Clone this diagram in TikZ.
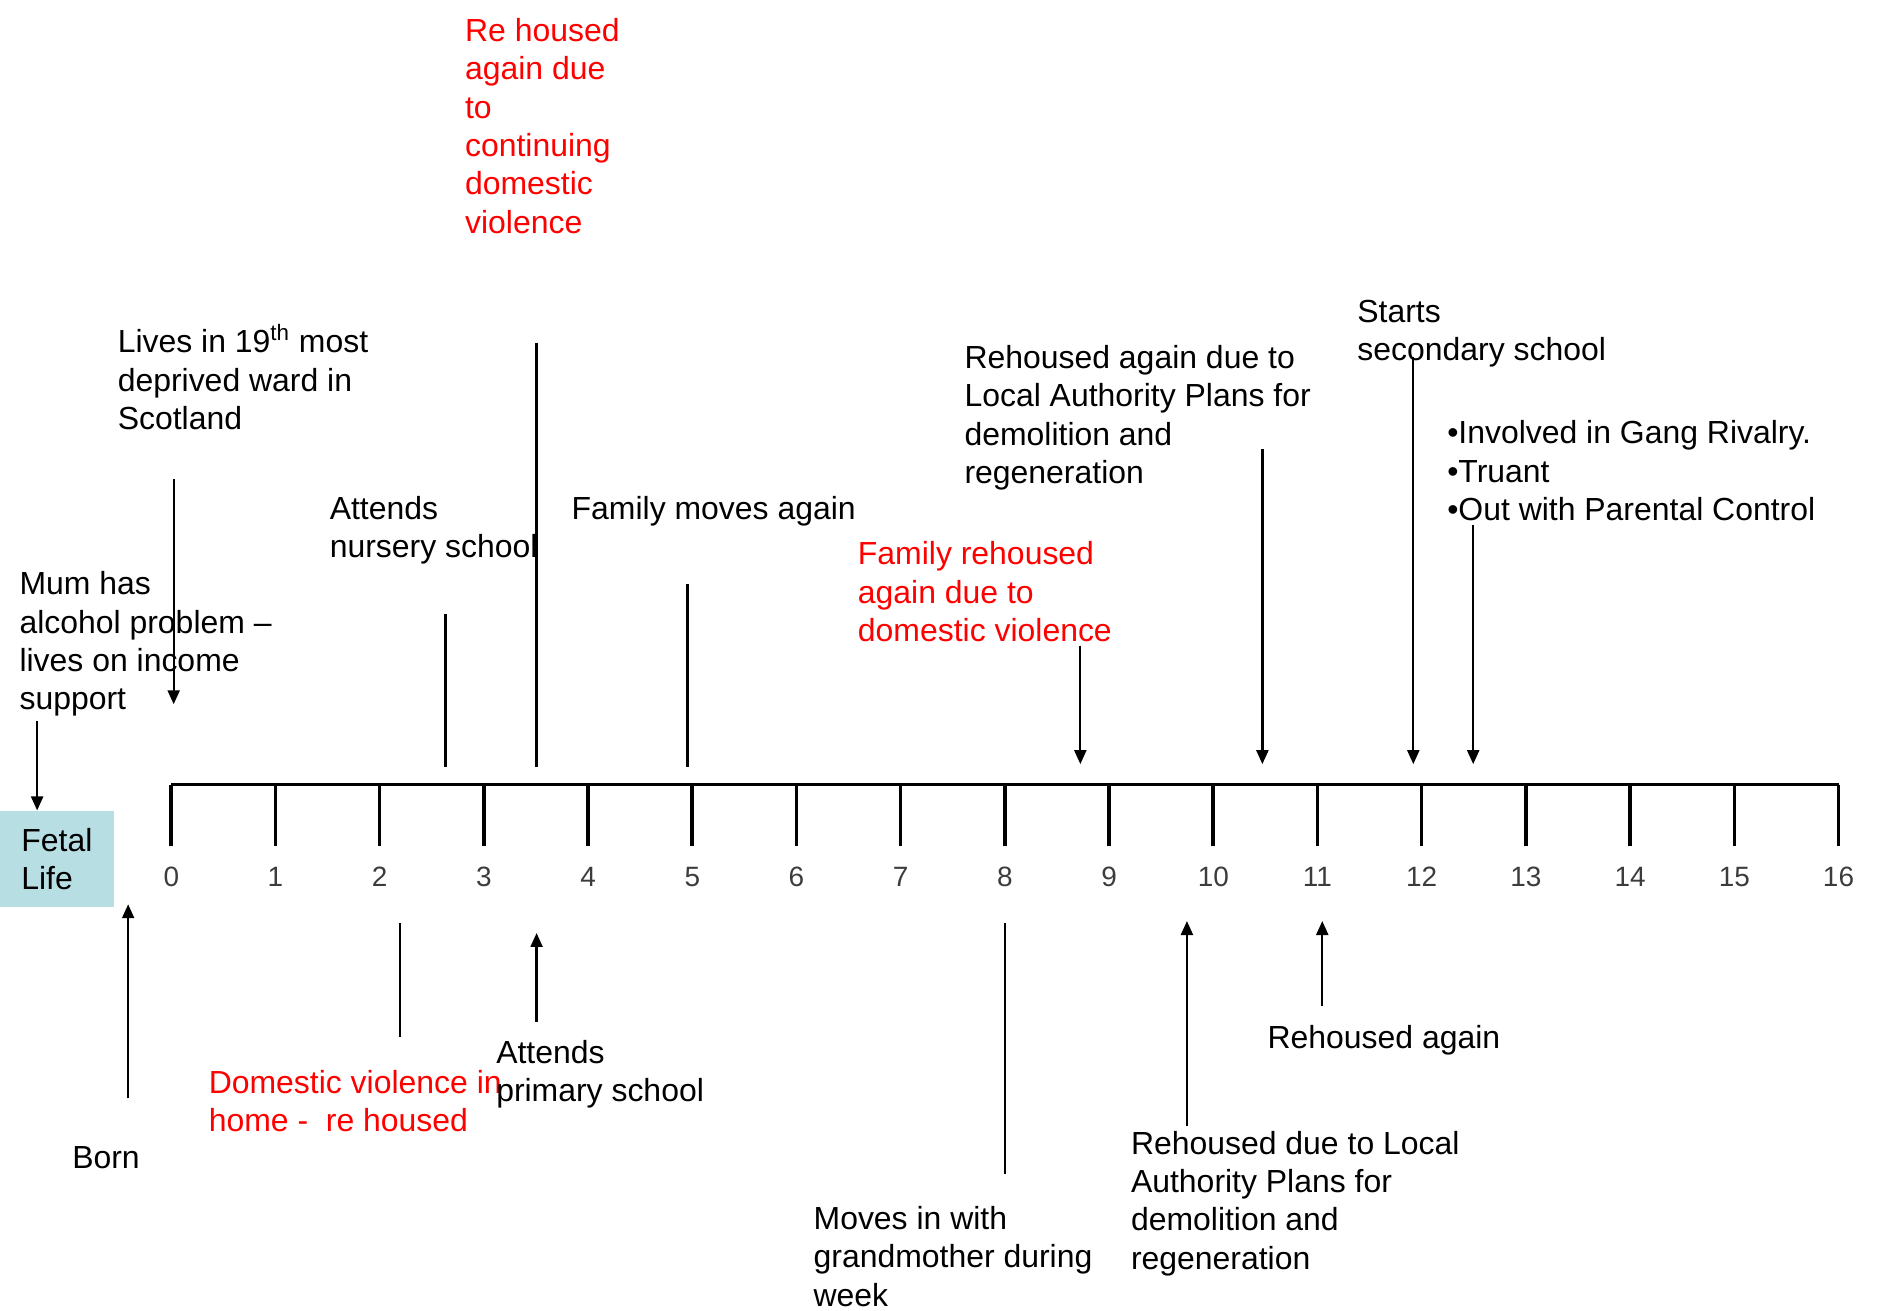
\documentclass[tikz,border=0pt]{standalone}
\usepackage{fontspec}
\setmainfont{Liberation Sans}
\usetikzlibrary{arrows.meta}
\usepackage{xcolor}
\definecolor{fetalblue}{RGB}{183,222,226}
\definecolor{evred}{RGB}{255,0,0}
\definecolor{numgray}{RGB}{60,60,60}

\tikzset{
	evtext/.style={anchor=north west, inner sep=0pt, align=left, font=\fontsize{16}{19.2}\selectfont},
	redtext/.style={evtext, text=evred},
	evline/.style={line width=1.1pt},
	evarrow/.style={evline, -{Triangle[length=7pt,width=6pt]}},
	axisline/.style={line width=1.8pt},
	numlabel/.style={inner sep=0pt, text=numgray, font=\fontsize{14}{16}\selectfont},
	fetalbox/.style={fill=fetalblue, minimum width=57pt, minimum height=48pt, inner sep=0pt, align=left, font=\fontsize{16}{19.2}\selectfont}
}

\begin{document}
\begin{tikzpicture}[x=0.6pt, y=-0.6pt]
				% Paths, nodes and wires:
				\useasboundingbox (0,0) rectangle (1568,1094);
				\foreach \i in {0,...,16}{
					\coordinate (t\i) at ({143+87*\i},655);
				}
				\draw[axisline] (t0) -- (t16);
				\foreach \i in {0,...,16}{
					\draw[axisline] (t\i) -- ++(0,51);
					\path (t\i) ++(0,77) node[numlabel] (n\i) {\i};
				}
				\node[fetalbox] (fetal) at (47.5,717){Fetal\\Life};
				\node[evtext] (mum) at (16,477){Mum has\\alcohol problem --\\lives on income\\support};
				\node[evtext] (ward) at (98,275){Lives in 19\smash{\textsuperscript{th}} most\\deprived ward in\\Scotland};
				\node[evtext] (nursery) at (275,414){Attends\\nursery school};
				\node[redtext] (rehoused) at (388,15){Re housed\\again due\\to\\continuing\\domestic\\violence};
				\node[evtext] (moves) at (477,414){Family moves again};
				\node[redtext] (famrehoused) at (716,452){Family rehoused\\again due to\\domestic violence};
				\node[evtext] (plans) at (805,288){Rehoused again due to\\Local Authority Plans for\\demolition and\\regeneration};
				\node[evtext] (secondary) at (1133,250){Starts\\secondary school};
				\node[evtext] (gang) at (1208,351){•Involved in Gang Rivalry.\\•Truant\\•Out with Parental Control};
				\node[evtext] (born) at (60,957){Born};
				\node[redtext] (dvhome) at (174,893){Domestic violence in\\home - \ re housed};
				\node[evtext] (primary) at (414,868){Attends\\primary school};
				\node[evtext] (granny) at (679,1007){Moves in with\\grandmother during\\week};
				\node[evtext] (plans2) at (944,944){Rehoused due to Local\\Authority Plans for\\demolition and\\regeneration};
				\node[evtext] (again) at (1058,856){Rehoused again};
				\coordinate (mumS) at (31,602);
				\coordinate (bornS) at (107,917);
				\coordinate (bornE) at (107,755);
				\coordinate (wardS) at (145,400);
				\coordinate (wardE) at (145,588);
				\coordinate (nurseryS) at (372,513);
				\coordinate (nurseryE) at (372,640);
				\coordinate (rehousedS) at (448,286);
				\coordinate (rehousedE) at (448,640);
				\coordinate (movesS) at (574,488);
				\coordinate (movesE) at (574,640);
				\coordinate (famS) at (902,539);
				\coordinate (famE) at (902,638);
				\coordinate (plansS) at (1054,375);
				\coordinate (plansE) at (1054,638);
				\coordinate (secS) at (1180,298);
				\coordinate (secE) at (1180,638);
				\coordinate (gangS) at (1230,438);
				\coordinate (gangE) at (1230,638);
				\coordinate (dvS) at (334,771);
				\coordinate (dvE) at (334,866);
				\coordinate (primS) at (448,853);
				\coordinate (primE) at (448,779);
				\coordinate (grannyS) at (839,771);
				\coordinate (grannyE) at (839,980);
				\coordinate (plans2S) at (991,940);
				\coordinate (plans2E) at (991,769);
				\coordinate (againS) at (1104,840);
				\coordinate (againE) at (1104,769);
				\draw[evarrow] (mumS) -- (mumS |- fetal.north);
				\draw[evarrow] (bornS) -- (bornE);
				\draw[evarrow] (wardS) -- (wardE);
				\draw[evline] (nurseryS) -- (nurseryE);
				\draw[evline] (rehousedS) -- (rehousedE);
				\draw[evline] (movesS) -- (movesE);
				\draw[evarrow] (famS) -- (famE);
				\draw[evarrow] (plansS) -- (plansE);
				\draw[evarrow] (secS) -- (secE);
				\draw[evarrow] (gangS) -- (gangE);
				\draw[evline] (dvS) -- (dvE);
				\draw[evarrow] (primS) -- (primE);
				\draw[evline] (grannyS) -- (grannyE);
				\draw[evarrow] (plans2S) -- (plans2E);
				\draw[evarrow] (againS) -- (againE);
\end{tikzpicture}
\end{document}
